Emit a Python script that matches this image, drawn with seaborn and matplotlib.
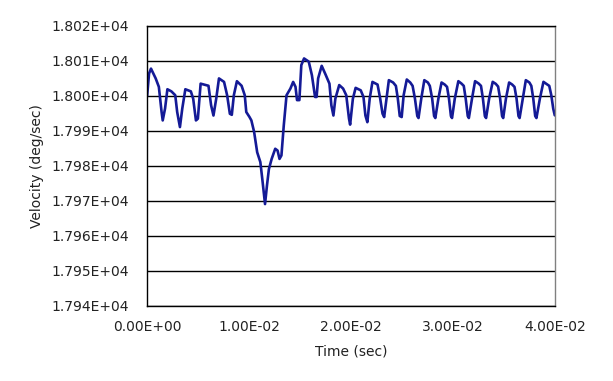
import numpy as np
import pandas as pd
import matplotlib
matplotlib.use("Agg")
import matplotlib.pyplot as plt
from matplotlib.ticker import FuncFormatter, MultipleLocator
import seaborn as sns

time_ms = [
    0.00, 0.19, 0.38, 0.84, 1.15, 1.42, 1.53, 1.76, 1.99, 2.38, 2.76, 2.95, 3.22, 3.45, 3.75,
    4.29, 4.52, 4.79, 4.98, 5.25, 6.02, 6.28, 6.51, 6.78, 7.05, 7.55, 7.85, 8.12, 8.31, 8.51,
    8.81, 9.27, 9.58, 9.73, 10.04, 10.23, 10.50, 10.80, 11.11, 11.30, 11.57, 11.76, 11.95,
    12.22, 12.57, 12.80, 12.99, 13.18, 13.41, 13.68, 14.06, 14.33, 14.56, 14.71, 14.94,
    15.13, 15.40, 15.86, 16.17, 16.48, 16.63, 16.78, 17.13, 17.51, 17.89, 18.08, 18.28,
    18.47, 18.85, 19.23, 19.54, 19.81, 19.92, 20.19, 20.46, 20.96, 21.23, 21.42, 21.61,
    21.84, 22.11, 22.61, 22.87, 23.10, 23.26, 23.45, 23.72, 24.14, 24.41, 24.60, 24.79,
    24.98, 25.17, 25.48, 25.82, 26.05, 26.28, 26.51, 26.63, 26.90, 27.20, 27.55, 27.74,
    27.97, 28.16, 28.28, 28.58, 28.89, 29.20, 29.43, 29.62, 29.81, 29.92, 30.19, 30.54,
    30.84, 31.07, 31.26, 31.46, 31.57, 31.88, 32.18, 32.53, 32.76, 32.95, 33.14, 33.26,
    33.56, 33.91, 34.21, 34.44, 34.64, 34.83, 34.94, 35.21, 35.52, 35.82, 36.05, 36.25,
    36.44, 36.55, 36.86, 37.16, 37.51, 37.70, 37.89, 38.08, 38.20, 38.54, 38.89, 39.23,
    39.46, 39.66, 39.85, 40.00,
]
velocity = [
    18000.0, 18006.4, 18007.8, 18005.0, 18002.6, 17995.4, 17993.0, 17996.4, 18001.9, 18001.3,
    18000.2, 17995.4, 17991.1, 17996.4, 18001.9, 18001.3, 17999.2, 17993.0, 17993.5, 18003.5,
    18002.9, 17997.3, 17994.4, 17999.2, 18005.0, 18004.0, 18000.2, 17994.9, 17994.6, 18000.2,
    18004.2, 18002.9, 18000.2, 17995.4, 17994.0, 17993.0, 17989.7, 17983.9, 17981.1, 17976.3,
    17969.1, 17974.4, 17979.1, 17982.0, 17984.9, 17984.4, 17982.0, 17983.0, 17991.6, 18000.2,
    18002.1, 18004.0, 18002.6, 17998.8, 17998.8, 18008.8, 18010.7, 18009.8, 18005.9, 17999.7,
    17999.7, 18005.0, 18008.6, 18006.1, 18003.5, 17997.3, 17994.4, 17999.2, 18003.1, 18002.1,
    18000.2, 17993.5, 17991.8, 17999.2, 18002.3, 18001.6, 17999.7, 17994.4, 17992.5, 17999.2,
    18004.0, 18003.25, 17999.23, 17994.93, 17993.97, 17998.28,
    18004.50, 18003.83, 18002.87, 17999.23, 17994.26, 17993.97, 18000.19,
    18004.69, 18003.83, 18002.87, 17999.23, 17994.26, 17993.68, 17999.23,
    18004.50, 18003.83, 18002.87, 17999.23, 17994.26, 17993.68, 17999.23,
    18003.83, 18003.25, 18002.58, 17999.23, 17994.26, 17993.68, 17999.23,
    18004.21, 18003.54, 18002.87, 17999.23, 17994.26, 17993.68, 17999.23,
    18004.21, 18003.54, 18002.87, 17999.23, 17994.26, 17993.68, 17999.23,
    18004.02, 18003.45, 18002.68, 17999.23, 17994.26, 17993.68, 17999.23,
    18003.83, 18003.25, 18002.58, 17999.23, 17994.26, 17993.68, 17999.23,
    18004.50, 18003.83, 18002.87, 17999.23, 17994.26, 17993.68, 17999.23,
    18004.02, 18003.35, 18002.87, 18000.19, 17996.36, 17994.45,
]

x_label = "Time (sec)"
y_label = "Velocity (deg/sec)"

df = pd.DataFrame({"time": np.array(time_ms) * 1e-3, "velocity": velocity})

sns.set_style("white")
plt.rcParams["font.family"] = ["DejaVu Sans"]

fig = plt.figure(figsize=(6.13, 3.81), dpi=100)
ax = fig.add_axes([0.240, 0.197, 0.665, 0.735])

sns.lineplot(data=df, x="time", y="velocity", ax=ax, color="#141a96",
             linewidth=1.9, estimator=None, sort=False)

ax.set_xlim(0, 0.04)
ax.set_ylim(17940, 18020)
ax.xaxis.set_major_locator(MultipleLocator(0.01))
ax.yaxis.set_major_locator(MultipleLocator(10))
ax.xaxis.set_major_formatter(FuncFormatter(lambda v, p: f"{v:.2E}"))
ax.yaxis.set_major_formatter(FuncFormatter(lambda v, p: f"{v:.3E}"))

ax.grid(axis="y", color="black", linewidth=1.0)
ax.grid(axis="x", visible=False)
ax.set_axisbelow(True)
for s in ax.spines.values():
    s.set_visible(True)
    s.set_color("black")
    s.set_linewidth(1.0)
ax.spines["right"].set_color("#808080")

ax.tick_params(axis="x", direction="in", length=4, width=1, color="black",
               labelsize=10, pad=10, labelcolor="#222222")
ax.tick_params(axis="y", direction="out", length=0, labelsize=10, pad=13,
               labelcolor="#222222")

ax.set_xlabel(x_label, fontsize=10, labelpad=8, color="#222222")
ax.set_ylabel(y_label, fontsize=10, labelpad=5, color="#222222")

fig.savefig("out.png", dpi=100, facecolor="white")
